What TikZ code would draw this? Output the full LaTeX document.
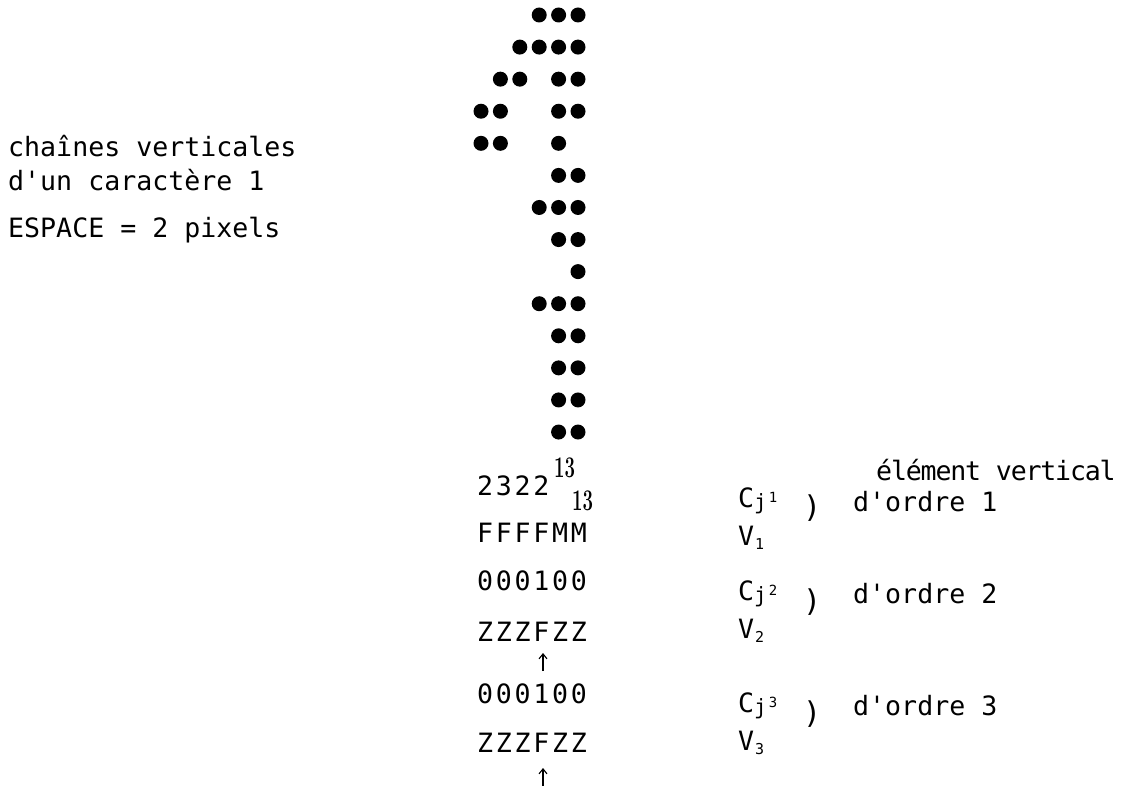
\documentclass[tikz,border=0pt]{standalone}
\usepackage{fontspec}
\usepackage{graphicx}
\usetikzlibrary{arrows.meta}
\newfontfamily\typew{DejaVu Sans Mono}
\newfontfamily\typewsp[LetterSpace=10.2]{DejaVu Sans Mono}
\newfontfamily\typewnar[LetterSpace=-4.5]{DejaVu Sans Mono}
\newcommand\subj{\raisebox{-2pt}{\fontsize{21}{21}\selectfont j}}
\newcommand\supd[1]{\raisebox{5pt}{\fontsize{14}{14}\selectfont\kern2pt #1}}
\newcommand\subd[1]{\raisebox{-4pt}{\fontsize{15}{15}\selectfont\kern1pt #1}}
\begin{document}
\begin{tikzpicture}[x=1pt,y=-1pt,
  txt/.style={anchor=base west, inner sep=0pt, font=\fontsize{26.6}{30}\typew},
  codetxt/.style={anchor=base west, inner sep=0pt, font=\fontsize{26.6}{30}\typewsp},
  nartxt/.style={anchor=base west, inner sep=0pt, font=\fontsize{26.6}{30}\typewnar},
  paren/.style={anchor=base west, inner sep=0pt, font=\fontsize{30}{30}\typew},
  num/.style={anchor=base west, inner sep=0pt},
  dot/.style={fill=black},
  uparrow/.style={-{Straight Barb[length=5pt,width=8pt]}, line width=1.1pt}]
\useasboundingbox (0,0) rectangle (1122,786);

% dot matrix
\foreach \r/\cols in {0/{3,4,5},1/{2,3,4,5},2/{1,2,4,5},3/{0,1,4,5},4/{0,1,4},5/{4,5},6/{3,4,5},7/{4,5},8/{5},9/{3,4,5},10/{4,5},11/{4,5},12/{4,5},13/{4,5}}{
  \foreach \c in \cols {
    \fill[dot] (481+19.4*\c, 15+32.08*\r) circle[radius=7.5pt];
  }
}

% left labels
\node[txt] (l1) at (8,157) {chaînes verticales};
\node[txt] (l2) at (8,191) {d'un caractère 1};
\node[txt] (l3) at (8,238) {ESPACE = 2 pixels};

% code strings
\node[codetxt] (k1) at (477,495) {2322};
\node[num] (s1) at (554,477) {\scalebox{0.62}[1]{\fontsize{30}{30}\selectfont\bfseries 13}};
\node[num] (s2) at (572,510) {\scalebox{0.62}[1]{\fontsize{30}{30}\selectfont\bfseries 13}};
\node[codetxt] (k2) at (477,542) {FFFFMM};
\node[codetxt] (k3) at (477,590) {000100};
\node[codetxt] (k4) at (477,641) {ZZZFZZ};
\coordinate (a1b) at (543,671);
\coordinate (a1t) at (543,653);
\draw[uparrow] (a1b) -- (a1t);
\node[codetxt] (k5) at (477,703) {000100};
\node[codetxt] (k6) at (477,752) {ZZZFZZ};
\coordinate (a2b) at (543,786);
\coordinate (a2t) at (543,768);
\draw[uparrow] (a2b) -- (a2t);

% right labels
\node[nartxt] (e0) at (876,480) {élément vertical};

\node[txt] (c1) at (738,507) {C\subj\supd{1}};
\node[paren] (p1) at (803,517) {)};
\node[txt] (o1) at (853,511) {d'ordre 1};
\node[txt] (v1) at (738,545) {V\subd{1}};

\node[txt] (c2) at (738,600) {C\subj\supd{2}};
\node[paren] (p2) at (803,611) {)};
\node[txt] (o2) at (853,603) {d'ordre 2};
\node[txt] (v2) at (738,638) {V\subd{2}};

\node[txt] (c3) at (738,712) {C\subj\supd{3}};
\node[paren] (p3) at (803,723) {)};
\node[txt] (o3) at (853,715) {d'ordre 3};
\node[txt] (v3) at (738,750) {V\subd{3}};
\end{tikzpicture}
\end{document}
